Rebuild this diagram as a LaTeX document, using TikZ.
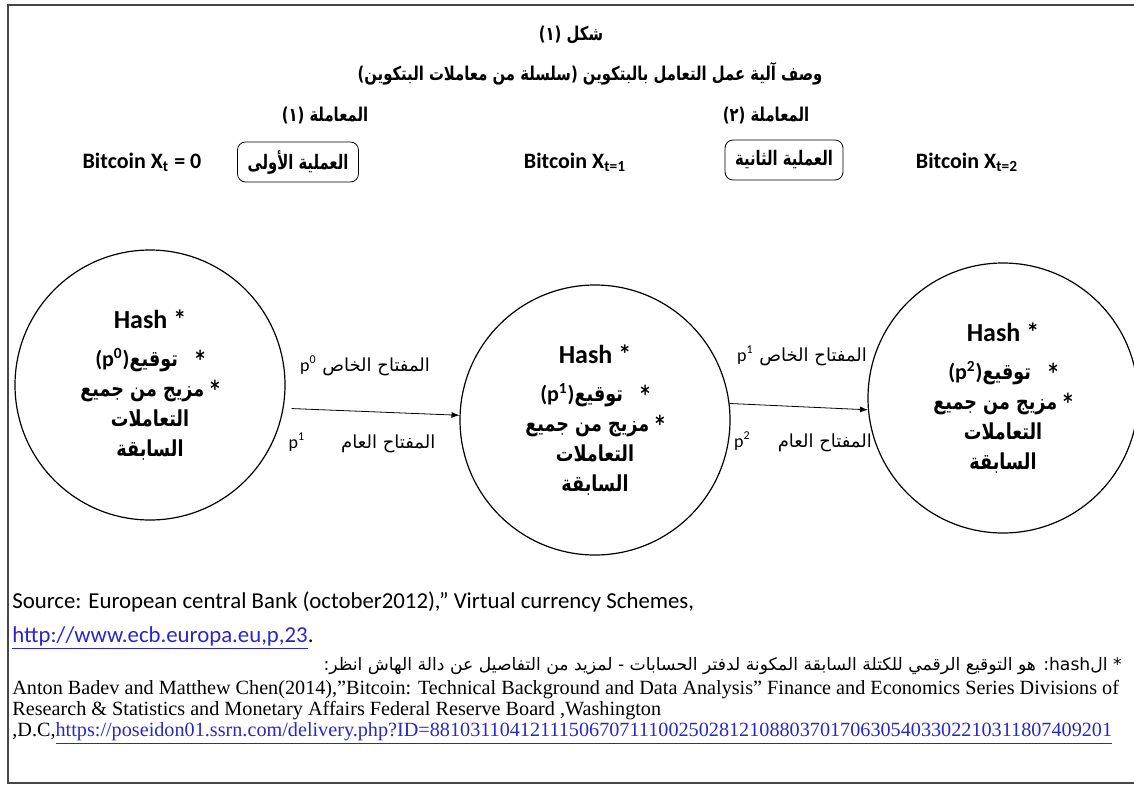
\documentclass[tikz,border=0pt]{standalone}
\usepackage{fontspec}
\usepackage{graphicx}
\setmainfont{Carlito}
\newfontfamily\arabicfont[Script=Arabic]{DejaVu Sans}
\newfontfamily\refsfont{Liberation Serif}
\TeXXeTstate=1
\definecolor{linkblue}{RGB}{40,40,200}
\definecolor{framegray}{RGB}{70,70,70}
\newcommand{\artext}[1]{{\arabicfont\beginR #1\endR}}
\newcommand{\arnarrow}[2][0.78]{\scalebox{#1}[1]{\artext{#2}}}
\newcommand{\pkey}[1]{\beginL{\rmfamily p\textsuperscript{#1}}\endL}
\tikzset{
  artitle/.style={font=\arabicfont\bfseries\fontsize{9.5}{11}\selectfont},
  stepbox/.style={draw,rounded corners=4pt,inner xsep=5pt,minimum height=20pt,font=\arabicfont\bfseries\fontsize{10}{11}\selectfont},
  coin/.style={font=\bfseries\fontsize{11}{12}\selectfont},
  block/.style={circle,draw,line width=0.6pt,minimum size=135pt,inner sep=0pt,align=center,font=\bfseries\fontsize{11}{15}\selectfont},
  keylabel/.style={font=\fontsize{9}{11}\selectfont},
  footline/.style={anchor=base west,inner sep=0pt},
}
\begin{document}
\begin{tikzpicture}[x=0.5pt,y=-0.5pt]
\useasboundingbox (0,0) rectangle (1134,787);
\draw[framegray,line width=1.2pt] (1134,5) -- (8,5) -- (8,783) -- (1134,783);

% titles
\node[artitle] (fig) at (571,35) {\arnarrow{شكل (١)}};
\node[artitle] (title) at (590,74) {\arnarrow{وصف آلية عمل التعامل بالبتكوين (سلسلة من معاملات البتكوين)}};
\node[artitle] (tr1) at (325,116) {\arnarrow{المعاملة (١)}};
\node[artitle] (tr2) at (766,116) {\arnarrow{المعاملة (٢)}};

% states and steps
\node[coin] (x0) at (142,162) {Bitcoin X\textsubscript{t} = 0};
\node[stepbox] (op1) at (298,162) {\arnarrow[0.74]{العملية الأولى}};
\node[coin] (x1) at (575,162) {Bitcoin X\textsubscript{t=1}};
\node[stepbox] (op2) at (784,160) {\arnarrow[0.74]{العملية الثانية}};
\node[coin] (x2) at (967,162) {Bitcoin X\textsubscript{t=2}};

% blocks
\foreach \n/\x/\y/\s in {c0/150/385/0,c1/595/420/1,c2/1003/398/2}{
\node[block] (\n) at (\x,\y) {{\fontsize{13}{15}\selectfont Hash *}\\[4pt]
{\rmfamily(p\textsuperscript{\s})}\arnarrow[0.8]{*\quad توقيع}\\
\arnarrow[0.8]{* مزيج من جميع}\\
\arnarrow[0.8]{التعاملات}\hspace{1.5em}\\
\arnarrow[0.8]{السابقة}\hspace{1.5em}};
}
\draw[->,>=latex] ([xshift=4pt]c0.-10) -- (c1.178);
\draw[->,>=latex] (c1.7) -- (c2.185);

\node[keylabel] (k0) at (365,366) {\artext{المفتاح الخاص \pkey{0}}};
\node[keylabel] (k1) at (362,443) {\artext{المفتاح العام\qquad\pkey{1}}};
\node[keylabel] (k2) at (802,356) {\artext{المفتاح الخاص \pkey{1}}};
\node[keylabel] (k3) at (803,442) {\artext{المفتاح العام\quad\enspace\pkey{2}}};

% sources
\node[footline,font=\fontsize{11.4}{12}\selectfont] (src) at (12,608) {Source: European central Bank (october2012),” Virtual currency Schemes,};
\node[footline,font=\fontsize{11.4}{12}\selectfont] (url) at (12,642) {\textcolor{linkblue}{\underline{http://www.ecb.europa.eu,p,23}}.};
\node[footline,anchor=base east,font=\arabicfont\fontsize{8.6}{11}\selectfont] (note) at (1122,670) {\beginR * ال\beginL hash\endL: هو التوقيع الرقمي للكتلة السابقة المكونة لدفتر الحسابات - لمزيد من التفاصيل عن دالة الهاش انظر:\endR};
\node[footline,font=\refsfont\fontsize{10.1}{11}\selectfont] (ref1) at (12,694) {Anton Badev and Matthew Chen(2014),”Bitcoin: Technical Background and Data Analysis” Finance and Economics Series Divisions of};
\node[footline,font=\refsfont\fontsize{10.1}{11}\selectfont] (ref2) at (12,715) {Research \& Statistics and Monetary Affairs Federal Reserve Board ,Washington};
\node[footline,font=\refsfont\fontsize{10.1}{11}\selectfont] (ref3) at (12,736) {,D.C,\textcolor{linkblue}{\underline{https://poseidon01.ssrn.com/delivery.php?ID=88103110412111506707111002502812108803701706305403302210311807409201}}};
\end{tikzpicture}
\end{document}
